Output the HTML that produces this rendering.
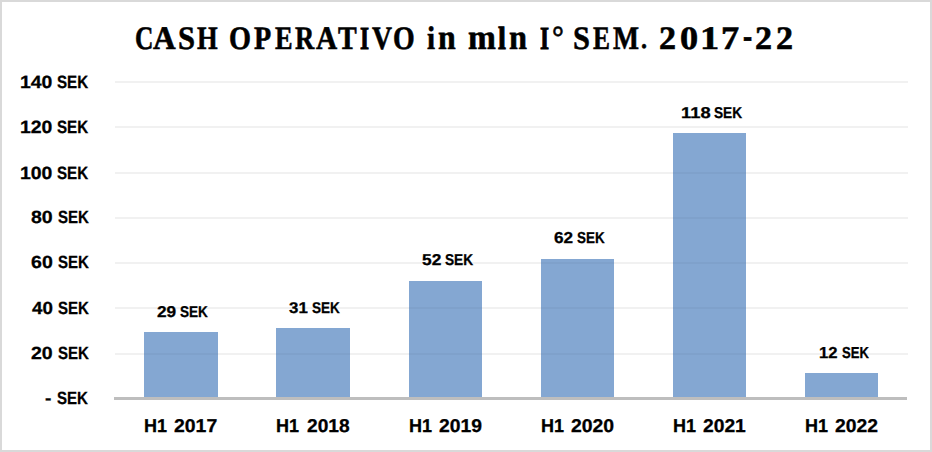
<!DOCTYPE html>
<html><head><meta charset="utf-8"><style>
html,body{margin:0;padding:0;background:#fff;}
body{width:932px;height:452px;position:relative;overflow:hidden;}
.frame{position:absolute;left:0;top:0;width:928px;height:448px;border:2px solid #d9d9d9;}
.t{position:absolute;font-weight:bold;line-height:1;white-space:pre;transform-origin:0 0;color:#000;text-rendering:geometricPrecision;}
.g{position:absolute;left:115px;width:793px;height:2px;background:#f1f1f1;}
.g2{position:absolute;height:2px;background:rgba(0,0,0,0.03);}
.b{position:absolute;background:#84a7d2;}
.ax{position:absolute;left:114px;top:397px;width:793px;height:3px;background:#bebebe;}
</style></head><body>
<div class="frame"></div>
<div class="g" style="top:81px"></div>
<div class="g" style="top:126px"></div>
<div class="g" style="top:172px"></div>
<div class="g" style="top:217px"></div>
<div class="g" style="top:262px"></div>
<div class="g" style="top:307px"></div>
<div class="g" style="top:353px"></div>
<div class="b" style="left:144px;top:332px;width:74px;height:65px"></div>
<div class="b" style="left:276px;top:328px;width:74px;height:69px"></div>
<div class="b" style="left:409px;top:281px;width:73px;height:116px"></div>
<div class="b" style="left:541px;top:259px;width:73px;height:138px"></div>
<div class="b" style="left:673px;top:133px;width:73px;height:264px"></div>
<div class="b" style="left:805px;top:373px;width:73px;height:24px"></div>
<div class="g2" style="left:144px;top:353px;width:74px"></div>
<div class="g2" style="left:276px;top:353px;width:74px"></div>
<div class="g2" style="left:409px;top:307px;width:73px"></div>
<div class="g2" style="left:409px;top:353px;width:73px"></div>
<div class="g2" style="left:541px;top:262px;width:73px"></div>
<div class="g2" style="left:541px;top:307px;width:73px"></div>
<div class="g2" style="left:541px;top:353px;width:73px"></div>
<div class="g2" style="left:673px;top:172px;width:73px"></div>
<div class="g2" style="left:673px;top:217px;width:73px"></div>
<div class="g2" style="left:673px;top:262px;width:73px"></div>
<div class="g2" style="left:673px;top:307px;width:73px"></div>
<div class="g2" style="left:673px;top:353px;width:73px"></div>
<div class="ax"></div>
<span class="t" style="left:135.04px;top:22.60px;font-family:'Liberation Serif', serif;font-size:34px;transform:scale(0.7483,0.9650);-webkit-text-stroke:0.6px #000">C</span>
<span class="t" style="left:152.79px;top:22.60px;font-family:'Liberation Serif', serif;font-size:34px;transform:scale(0.9231,0.9650);-webkit-text-stroke:0.6px #000">A</span>
<span class="t" style="left:177.54px;top:22.60px;font-family:'Liberation Serif', serif;font-size:34px;transform:scale(0.9001,0.9650);-webkit-text-stroke:0.6px #000">S</span>
<span class="t" style="left:197.03px;top:22.60px;font-family:'Liberation Serif', serif;font-size:34px;transform:scale(0.7810,0.9650);-webkit-text-stroke:0.6px #000">H</span>
<span class="t" style="left:228.82px;top:22.60px;font-family:'Liberation Serif', serif;font-size:34px;transform:scale(0.8315,0.9650);-webkit-text-stroke:0.6px #000">O</span>
<span class="t" style="left:254.13px;top:22.60px;font-family:'Liberation Serif', serif;font-size:34px;transform:scale(0.8278,0.9650);-webkit-text-stroke:0.6px #000">P</span>
<span class="t" style="left:274.93px;top:22.60px;font-family:'Liberation Serif', serif;font-size:34px;transform:scale(0.7766,0.9650);-webkit-text-stroke:0.6px #000">E</span>
<span class="t" style="left:295.33px;top:22.60px;font-family:'Liberation Serif', serif;font-size:34px;transform:scale(0.7843,0.9650);-webkit-text-stroke:0.6px #000">R</span>
<span class="t" style="left:315.98px;top:22.60px;font-family:'Liberation Serif', serif;font-size:34px;transform:scale(0.8626,0.9650);-webkit-text-stroke:0.6px #000">A</span>
<span class="t" style="left:337.53px;top:22.60px;font-family:'Liberation Serif', serif;font-size:34px;transform:scale(0.8266,0.9650);-webkit-text-stroke:0.6px #000">T</span>
<span class="t" style="left:359.59px;top:22.87px;font-family:'Liberation Serif', serif;font-size:34px;transform:scale(0.6832,0.9456);-webkit-text-stroke:1.1px #000">I</span>
<span class="t" style="left:371.97px;top:22.60px;font-family:'Liberation Serif', serif;font-size:34px;transform:scale(0.8147,0.9650);-webkit-text-stroke:0.6px #000">V</span>
<span class="t" style="left:392.84px;top:22.60px;font-family:'Liberation Serif', serif;font-size:34px;transform:scale(0.8189,0.9650);-webkit-text-stroke:0.6px #000">O</span>
<span class="t" style="left:427.27px;top:22.60px;font-family:'Liberation Serif', serif;font-size:34px;transform:scale(0.8545,0.9650);-webkit-text-stroke:0.6px #000">i</span>
<span class="t" style="left:438.07px;top:20.85px;font-family:'Liberation Serif', serif;font-size:34px;transform:scale(0.9352,1.0329);-webkit-text-stroke:0.6px #000">n</span>
<span class="t" style="left:467.74px;top:20.81px;font-family:'Liberation Serif', serif;font-size:34px;transform:scale(0.9833,1.0344);-webkit-text-stroke:0.6px #000">m</span>
<span class="t" style="left:497.96px;top:22.87px;font-family:'Liberation Serif', serif;font-size:34px;transform:scale(0.8340,0.9456);-webkit-text-stroke:1.1px #000">l</span>
<span class="t" style="left:508.96px;top:20.85px;font-family:'Liberation Serif', serif;font-size:34px;transform:scale(0.9515,1.0329);-webkit-text-stroke:0.6px #000">n</span>
<span class="t" style="left:540.49px;top:22.87px;font-family:'Liberation Serif', serif;font-size:34px;transform:scale(0.6832,0.9456);-webkit-text-stroke:1.1px #000">I</span>
<span class="t" style="left:552.41px;top:22.38px;font-family:'Liberation Serif', serif;font-size:34px;transform:scale(0.8746,0.9544);-webkit-text-stroke:0.6px #000">°</span>
<span class="t" style="left:573.15px;top:22.60px;font-family:'Liberation Serif', serif;font-size:34px;transform:scale(0.8941,0.9650);-webkit-text-stroke:0.6px #000">S</span>
<span class="t" style="left:592.93px;top:22.60px;font-family:'Liberation Serif', serif;font-size:34px;transform:scale(0.7485,0.9650);-webkit-text-stroke:0.6px #000">E</span>
<span class="t" style="left:612.63px;top:22.60px;font-family:'Liberation Serif', serif;font-size:34px;transform:scale(0.8107,0.9650);-webkit-text-stroke:0.6px #000">M</span>
<span class="t" style="left:641.22px;top:26.63px;font-family:'Liberation Serif', serif;font-size:34px;transform:scale(0.7126,0.7906);-webkit-text-stroke:0.6px #000">.</span>
<span class="t" style="left:659.07px;top:22.60px;font-family:'Liberation Serif', serif;font-size:34px;transform:scale(1.0008,0.9650);-webkit-text-stroke:0.6px #000">2</span>
<span class="t" style="left:680.26px;top:22.60px;font-family:'Liberation Serif', serif;font-size:34px;transform:scale(1.0658,0.9650);-webkit-text-stroke:0.6px #000">0</span>
<span class="t" style="left:700.29px;top:22.60px;font-family:'Liberation Serif', serif;font-size:34px;transform:scale(1.1261,0.9650);-webkit-text-stroke:0.6px #000">1</span>
<span class="t" style="left:721.49px;top:22.60px;font-family:'Liberation Serif', serif;font-size:34px;transform:scale(1.0683,0.9650);-webkit-text-stroke:0.6px #000">7</span>
<span class="t" style="left:743.11px;top:18.35px;font-family:'Liberation Serif', serif;font-size:34px;transform:scale(0.8085,1.1184);-webkit-text-stroke:0.6px #000">-</span>
<span class="t" style="left:755.07px;top:22.60px;font-family:'Liberation Serif', serif;font-size:34px;transform:scale(1.0008,0.9650);-webkit-text-stroke:0.6px #000">2</span>
<span class="t" style="left:775.97px;top:22.60px;font-family:'Liberation Serif', serif;font-size:34px;transform:scale(1.0008,0.9650);-webkit-text-stroke:0.6px #000">2</span>
<span class="t" style="left:56.70px;top:73.58px;font-family:'Liberation Sans', sans-serif;font-size:19px;transform:scale(0.7958,0.9342);-webkit-text-stroke:0.3px #000">SEK</span>
<span class="t" style="left:19.83px;top:73.58px;font-family:'Liberation Sans', sans-serif;font-size:19px;transform:scale(1.0223,0.9342);-webkit-text-stroke:0.3px #000">140</span>
<span class="t" style="left:56.70px;top:118.58px;font-family:'Liberation Sans', sans-serif;font-size:19px;transform:scale(0.7958,0.9342);-webkit-text-stroke:0.3px #000">SEK</span>
<span class="t" style="left:19.83px;top:118.58px;font-family:'Liberation Sans', sans-serif;font-size:19px;transform:scale(1.0223,0.9342);-webkit-text-stroke:0.3px #000">120</span>
<span class="t" style="left:56.70px;top:164.58px;font-family:'Liberation Sans', sans-serif;font-size:19px;transform:scale(0.7958,0.9342);-webkit-text-stroke:0.3px #000">SEK</span>
<span class="t" style="left:19.83px;top:164.58px;font-family:'Liberation Sans', sans-serif;font-size:19px;transform:scale(1.0223,0.9342);-webkit-text-stroke:0.3px #000">100</span>
<span class="t" style="left:57.78px;top:209.13px;font-family:'Liberation Sans', sans-serif;font-size:19px;transform:scale(0.7909,0.9259);-webkit-text-stroke:0.3px #000">SEK</span>
<span class="t" style="left:31.19px;top:209.13px;font-family:'Liberation Sans', sans-serif;font-size:19px;transform:scale(1.0288,0.9259);-webkit-text-stroke:0.3px #000">80</span>
<span class="t" style="left:57.78px;top:254.13px;font-family:'Liberation Sans', sans-serif;font-size:19px;transform:scale(0.7909,0.9259);-webkit-text-stroke:0.3px #000">SEK</span>
<span class="t" style="left:31.20px;top:254.13px;font-family:'Liberation Sans', sans-serif;font-size:19px;transform:scale(1.0292,0.9259);-webkit-text-stroke:0.3px #000">60</span>
<span class="t" style="left:57.78px;top:300.13px;font-family:'Liberation Sans', sans-serif;font-size:19px;transform:scale(0.7909,0.9259);-webkit-text-stroke:0.3px #000">SEK</span>
<span class="t" style="left:32.14px;top:300.13px;font-family:'Liberation Sans', sans-serif;font-size:19px;transform:scale(0.9887,0.9259);-webkit-text-stroke:0.3px #000">40</span>
<span class="t" style="left:57.78px;top:345.13px;font-family:'Liberation Sans', sans-serif;font-size:19px;transform:scale(0.7909,0.9259);-webkit-text-stroke:0.3px #000">SEK</span>
<span class="t" style="left:31.07px;top:345.13px;font-family:'Liberation Sans', sans-serif;font-size:19px;transform:scale(1.0271,0.9259);-webkit-text-stroke:0.3px #000">20</span>
<span class="t" style="left:56.78px;top:390.13px;font-family:'Liberation Sans', sans-serif;font-size:19px;transform:scale(0.7909,0.9259);-webkit-text-stroke:0.3px #000">SEK</span>
<span class="t" style="left:44.81px;top:390.13px;font-family:'Liberation Sans', sans-serif;font-size:19px;transform:scale(1.0080,0.9259);-webkit-text-stroke:0.3px #000">-</span>
<span class="t" style="left:179.73px;top:304.35px;font-family:'Liberation Sans', sans-serif;font-size:17px;transform:scale(0.7987,0.9205);-webkit-text-stroke:0.3px #000">SEK</span>
<span class="t" style="left:157.39px;top:304.35px;font-family:'Liberation Sans', sans-serif;font-size:17px;transform:scale(1.0144,0.9205);-webkit-text-stroke:0.3px #000">29</span>
<span class="t" style="left:311.97px;top:300.13px;font-family:'Liberation Sans', sans-serif;font-size:17px;transform:scale(0.7953,0.9162);-webkit-text-stroke:0.3px #000">SEK</span>
<span class="t" style="left:289.29px;top:300.13px;font-family:'Liberation Sans', sans-serif;font-size:17px;transform:scale(0.9925,0.9162);-webkit-text-stroke:0.3px #000">31</span>
<span class="t" style="left:445.26px;top:251.94px;font-family:'Liberation Sans', sans-serif;font-size:17px;transform:scale(0.8039,0.9235);-webkit-text-stroke:0.3px #000">SEK</span>
<span class="t" style="left:421.86px;top:251.94px;font-family:'Liberation Sans', sans-serif;font-size:17px;transform:scale(1.0197,0.9235);-webkit-text-stroke:0.3px #000">52</span>
<span class="t" style="left:576.87px;top:230.03px;font-family:'Liberation Sans', sans-serif;font-size:17px;transform:scale(0.7889,0.9307);-webkit-text-stroke:0.3px #000">SEK</span>
<span class="t" style="left:554.01px;top:230.03px;font-family:'Liberation Sans', sans-serif;font-size:17px;transform:scale(1.0111,0.9307);-webkit-text-stroke:0.3px #000">62</span>
<span class="t" style="left:713.77px;top:105.32px;font-family:'Liberation Sans', sans-serif;font-size:17px;transform:scale(0.8041,0.9224);-webkit-text-stroke:0.3px #000">SEK</span>
<span class="t" style="left:680.94px;top:105.32px;font-family:'Liberation Sans', sans-serif;font-size:17px;transform:scale(1.0789,0.9224);-webkit-text-stroke:0.3px #000">118</span>
<span class="t" style="left:841.75px;top:344.63px;font-family:'Liberation Sans', sans-serif;font-size:17px;transform:scale(0.7699,0.9318);-webkit-text-stroke:0.3px #000">SEK</span>
<span class="t" style="left:818.96px;top:344.63px;font-family:'Liberation Sans', sans-serif;font-size:17px;transform:scale(0.9799,0.9318);-webkit-text-stroke:0.3px #000">12</span>
<span class="t" style="left:143.62px;top:417.30px;font-family:'Liberation Sans', sans-serif;font-size:19px;transform:scale(0.9472,0.9753);-webkit-text-stroke:0.3px #000">H1</span>
<span class="t" style="left:174.49px;top:417.30px;font-family:'Liberation Sans', sans-serif;font-size:19px;transform:scale(1.0224,0.9753);-webkit-text-stroke:0.3px #000">2017</span>
<span class="t" style="left:275.62px;top:417.30px;font-family:'Liberation Sans', sans-serif;font-size:19px;transform:scale(0.9472,0.9753);-webkit-text-stroke:0.3px #000">H1</span>
<span class="t" style="left:306.51px;top:417.30px;font-family:'Liberation Sans', sans-serif;font-size:19px;transform:scale(1.0090,0.9753);-webkit-text-stroke:0.3px #000">2018</span>
<span class="t" style="left:408.62px;top:417.30px;font-family:'Liberation Sans', sans-serif;font-size:19px;transform:scale(0.9472,0.9753);-webkit-text-stroke:0.3px #000">H1</span>
<span class="t" style="left:438.98px;top:417.30px;font-family:'Liberation Sans', sans-serif;font-size:19px;transform:scale(1.0164,0.9753);-webkit-text-stroke:0.3px #000">2019</span>
<span class="t" style="left:540.62px;top:417.30px;font-family:'Liberation Sans', sans-serif;font-size:19px;transform:scale(0.9472,0.9753);-webkit-text-stroke:0.3px #000">H1</span>
<span class="t" style="left:570.98px;top:417.30px;font-family:'Liberation Sans', sans-serif;font-size:19px;transform:scale(1.0209,0.9753);-webkit-text-stroke:0.3px #000">2020</span>
<span class="t" style="left:672.62px;top:417.30px;font-family:'Liberation Sans', sans-serif;font-size:19px;transform:scale(0.9472,0.9753);-webkit-text-stroke:0.3px #000">H1</span>
<span class="t" style="left:702.99px;top:417.30px;font-family:'Liberation Sans', sans-serif;font-size:19px;transform:scale(1.0132,0.9753);-webkit-text-stroke:0.3px #000">2021</span>
<span class="t" style="left:804.62px;top:417.30px;font-family:'Liberation Sans', sans-serif;font-size:19px;transform:scale(0.9472,0.9753);-webkit-text-stroke:0.3px #000">H1</span>
<span class="t" style="left:835.00px;top:417.30px;font-family:'Liberation Sans', sans-serif;font-size:19px;transform:scale(1.0169,0.9753);-webkit-text-stroke:0.3px #000">2022</span>
</body></html>
